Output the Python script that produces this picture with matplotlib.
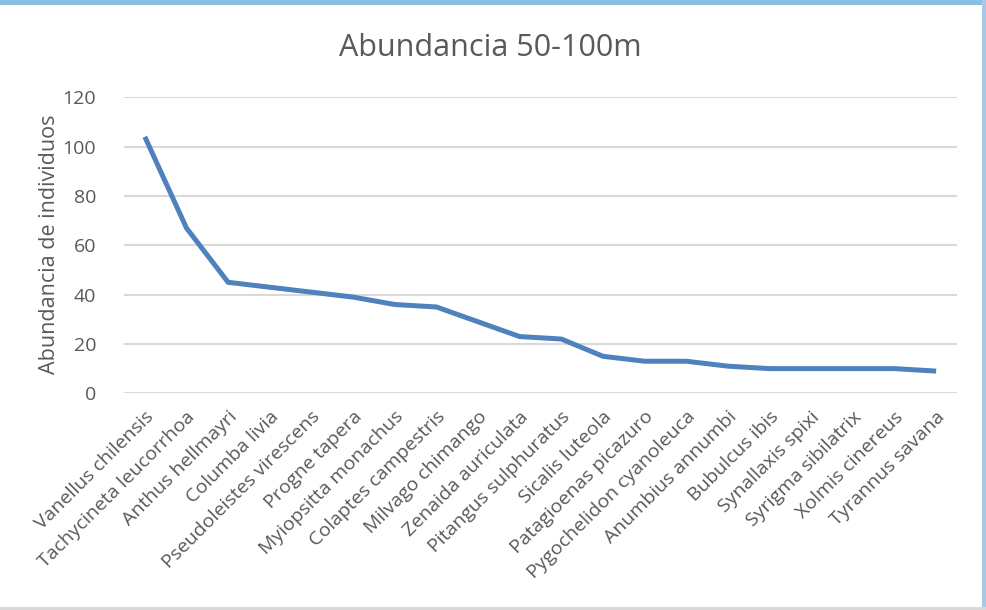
import matplotlib
matplotlib.use("Agg")
import matplotlib.pyplot as plt
import matplotlib.transforms as mtransforms
from matplotlib.patches import Rectangle

species = ["Vanellus chilensis", "Tachycineta leucorrhoa", "Anthus hellmayri",
           "Columba livia", "Pseudoleistes virescens", "Progne tapera",
           "Myiopsitta monachus", "Colaptes campestris", "Milvago chimango",
           "Zenaida auriculata", "Pitangus sulphuratus", "Sicalis luteola",
           "Patagioenas picazuro", "Pygochelidon cyanoleuca", "Anumbius annumbi",
           "Bubulcus ibis", "Synallaxis spixi", "Syrigma sibilatrix",
           "Xolmis cinereus", "Tyrannus savana"]
abundance = [104, 67, 45, 43, 41, 39, 36, 35, 29, 23, 22, 15, 13, 13, 11, 10, 10, 10, 10, 9]
y_ticks = [0, 20, 40, 60, 80, 100, 120]
title = "Abundancia 50-100m"
y_label = "Abundancia de individuos"

plt.rcParams['font.family'] = ['Open Sans', 'DejaVu Sans']
W, H = 986, 610
fig = plt.figure(figsize=(W / 100, H / 100), dpi=100)
fig.patch.set_facecolor("white")

# window frame decoration
fig.patches.append(Rectangle((0, 1 - 5 / H), 1, 5 / H, transform=fig.transFigure,
                             facecolor="#8cbde3", edgecolor="none"))
fig.patches.append(Rectangle((1 - 4 / W, 0), 4 / W, 1, transform=fig.transFigure,
                             facecolor="#a9c8e6", edgecolor="none"))
fig.patches.append(Rectangle((0, 0), 1, 3 / H, transform=fig.transFigure,
                             facecolor="#d9d9d9", edgecolor="none"))

left, right, top, bottom = 124 / W, 957 / W, 97.3 / H, 393.3 / H
ax = fig.add_axes([left, 1 - bottom, right - left, bottom - top])
x = list(range(len(species)))
ax.plot(x, abundance, color="#4f81bd", linewidth=3.6, solid_capstyle="butt",
        solid_joinstyle="round", zorder=3)
ax.set_xlim(-0.5, len(species) - 0.5)
ax.set_ylim(0, 120)
ax.set_yticks(y_ticks)
ax.set_yticklabels([str(v) for v in y_ticks])
ax.yaxis.grid(True, color="#d9d9d9", linewidth=1.5)
ax.set_axisbelow(True)
for s in ax.spines.values():
    s.set_visible(False)
ax.tick_params(axis="y", length=0, pad=20, labelsize=14, labelcolor="#595959")
ax.tick_params(axis="x", length=0, pad=15, labelsize=14, labelcolor="#595959")
ax.set_xticks(x)
ax.set_xticklabels(species, rotation=45, ha="right", va="center", rotation_mode="anchor")
offset = mtransforms.ScaledTranslation(6 / 100, 0, fig.dpi_scale_trans)
for lbl in ax.get_xticklabels():
    lbl.set_transform(lbl.get_transform() + offset)

fig.text(490 / W, 1 - 48 / H, title, ha="center", va="center", fontsize=22, color="#595959")
fig.text(50 / W, 1 - 244 / H, y_label, ha="center", va="center", rotation=90,
         fontsize=15.5, color="#595959")

fig.savefig("out.png", dpi=100)
